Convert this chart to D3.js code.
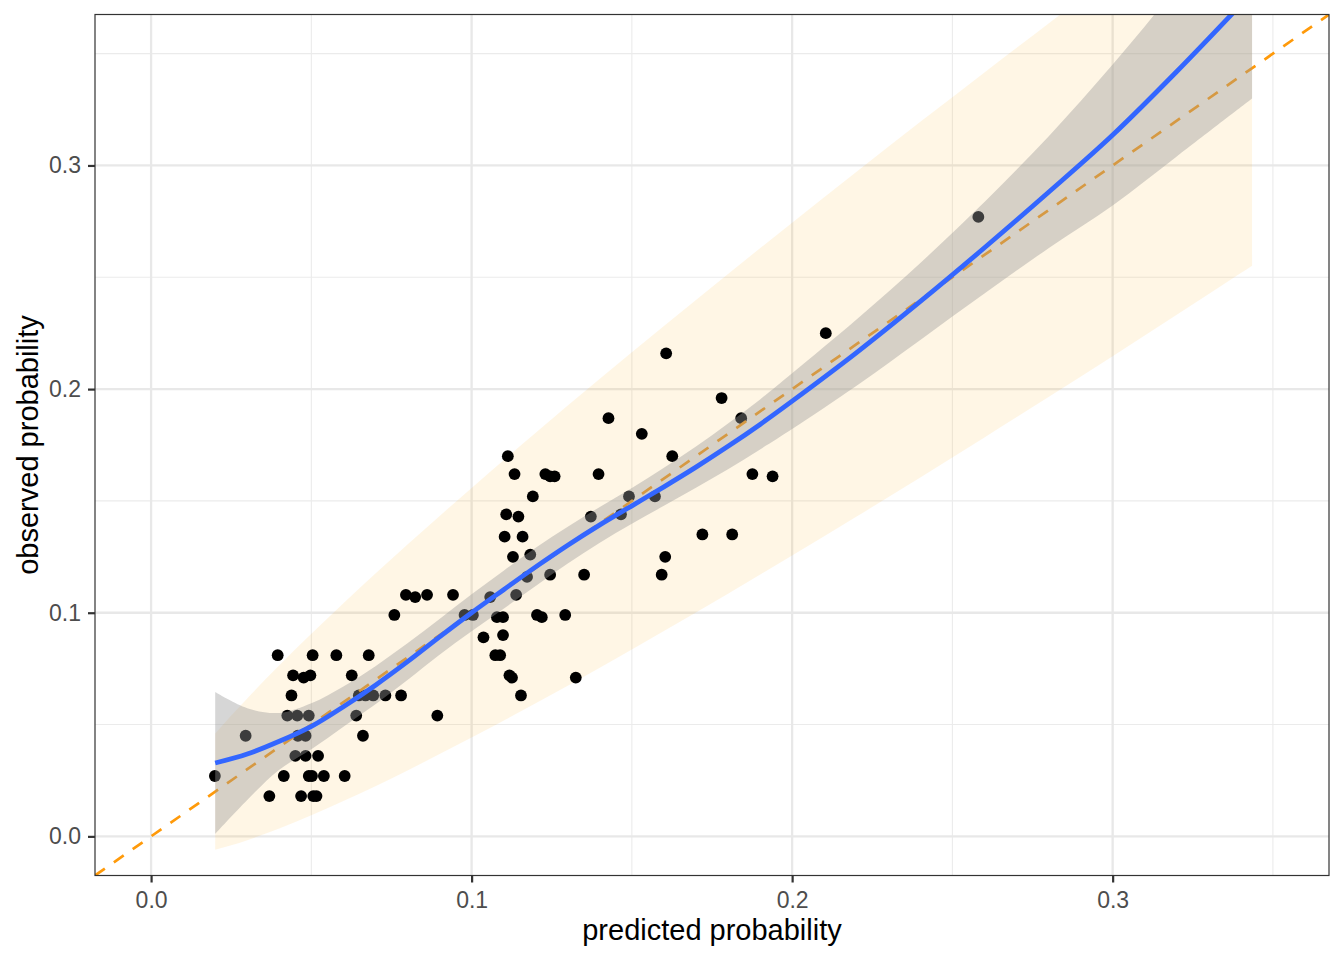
<!DOCTYPE html>
<html>
<head>
<meta charset="utf-8">
<script src="https://cdn.jsdelivr.net/npm/d3@7"></script>
<style>
  html, body { margin: 0; padding: 0; background: #fff; }
  svg { display: block; font-family: "Liberation Sans", Arial, Helvetica, sans-serif; }
</style>
</head>
<body>
<svg id="chart" width="1344" height="960"></svg>
<script>
// observed vs predicted points
const predicted = [
  0.0395, 0.0504, 0.0578, 0.0679, 0.0443, 0.0476, 0.0497, 0.0626, 0.0438, 0.0648,
  0.0669, 0.0693, 0.0731, 0.0780, 0.0425, 0.0456, 0.0492, 0.0640, 0.0893, 0.0295,
  0.0458, 0.0482, 0.0661, 0.0450, 0.0482, 0.0521, 0.0199, 0.0414, 0.0492, 0.0502,
  0.0539, 0.0604, 0.0369, 0.0468, 0.0506, 0.0516, 0.0759, 0.0795, 0.0824, 0.0861,
  0.0942, 0.0978, 0.1004, 0.1058, 0.1037, 0.1074, 0.1089, 0.1079, 0.1098, 0.1098,
  0.1118, 0.1126, 0.1154, 0.1113, 0.1134, 0.1108, 0.1103, 0.1146, 0.1159, 0.1129,
  0.1183, 0.1173, 0.1139, 0.1191, 0.1230, 0.1245, 0.1259, 0.1245, 0.1204, 0.1219,
  0.1292, 0.1351, 0.1325, 0.1396, 0.1372, 0.1427, 0.1531, 0.1607, 0.1780, 0.1841,
  0.1626, 0.1876, 0.1939, 0.1491, 0.1466, 0.1572, 0.1720, 0.1813, 0.1604, 0.1593,
  0.2105, 0.2581
];
const observed = [
  0.081, 0.081, 0.081, 0.081, 0.072, 0.071, 0.072, 0.072, 0.063, 0.063,
  0.063, 0.063, 0.063, 0.063, 0.054, 0.054, 0.054, 0.054, 0.054, 0.045,
  0.045, 0.045, 0.045, 0.036, 0.036, 0.036, 0.027, 0.027, 0.027, 0.027,
  0.027, 0.027, 0.018, 0.018, 0.018, 0.018, 0.099, 0.108, 0.107, 0.108,
  0.108, 0.099, 0.099, 0.107, 0.089, 0.081, 0.081, 0.098, 0.098, 0.090,
  0.072, 0.071, 0.063, 0.170, 0.162, 0.144, 0.134, 0.143, 0.134, 0.125,
  0.126, 0.116, 0.108, 0.152, 0.162, 0.161, 0.161, 0.117, 0.099, 0.098,
  0.099, 0.117, 0.071, 0.162, 0.143, 0.187, 0.180, 0.216, 0.196, 0.187,
  0.170, 0.162, 0.161, 0.152, 0.144, 0.152, 0.135, 0.135, 0.125, 0.117,
  0.225, 0.277
];

// smoother (blue line) and its confidence band
const smoothX = [0.02, 0.03, 0.04, 0.05, 0.06, 0.07, 0.08, 0.09, 0.10, 0.11, 0.12, 0.13, 0.14,
                 0.15, 0.16, 0.17, 0.18, 0.19, 0.20, 0.22, 0.24, 0.26, 0.28, 0.30, 0.32, 0.3435];
const smoothFit = [0.0328, 0.0368, 0.0425, 0.0492, 0.0580, 0.0676, 0.0781, 0.0892, 0.1000, 0.1103,
                   0.1205, 0.1302, 0.1393, 0.1478, 0.1563, 0.1651, 0.1744, 0.1842, 0.1946, 0.2162,
                   0.2392, 0.2632, 0.2880, 0.3136, 0.3420, 0.3772];
const smoothLo = [0.0011, 0.0163, 0.0298, 0.0389, 0.0490, 0.0591, 0.0699, 0.0812, 0.0917, 0.1018,
                  0.1120, 0.1220, 0.1313, 0.1398, 0.1478, 0.1559, 0.1642, 0.1730, 0.1821, 0.2014,
                  0.2220, 0.2427, 0.2630, 0.2821, 0.3040, 0.3299];
const smoothHi = [0.0645, 0.0573, 0.0552, 0.0595, 0.0670, 0.0761, 0.0863, 0.0972, 0.1083, 0.1188,
                  0.1290, 0.1384, 0.1473, 0.1558, 0.1648, 0.1743, 0.1846, 0.1954, 0.2071, 0.2310,
                  0.2564, 0.2837, 0.3130, 0.3451, 0.3800, 0.4245];

// wide orange band around the diagonal
const bandX = [0.02, 0.025, 0.03, 0.04, 0.06, 0.08, 0.10, 0.12, 0.14, 0.16, 0.18, 0.20,
               0.22, 0.24, 0.26, 0.28, 0.30, 0.32, 0.34, 0.3435];
const bandLo = [-0.0060, -0.0040, -0.0017, 0.0035, 0.0158, 0.0295, 0.0442, 0.0595, 0.0754, 0.0918,
                0.1085, 0.1256, 0.1429, 0.1605, 0.1784, 0.1965, 0.2147, 0.2332, 0.2519, 0.2552];
const bandHi = [0.0460, 0.0540, 0.0617, 0.0765, 0.1042, 0.1305, 0.1558, 0.1805, 0.2046, 0.2282,
                0.2515, 0.2744, 0.2971, 0.3195, 0.3416, 0.3635, 0.3853, 0.4068, 0.4281, 0.4319];

const majorTicks = [0, 0.1, 0.2, 0.3];
const minorTicks = [0.05, 0.15, 0.25, 0.35];
const limits = [-0.0175, 0.3675];

const panel = { left: 95, right: 1329, top: 14.5, bottom: 875.5 };
const svg = d3.select("#chart");

const x = d3.scaleLinear().domain(limits).range([panel.left, panel.right]);
const y = d3.scaleLinear().domain(limits).range([panel.bottom, panel.top]);

svg.append("defs").append("clipPath").attr("id", "panel-clip")
    .append("rect")
    .attr("x", panel.left).attr("y", panel.top)
    .attr("width", panel.right - panel.left).attr("height", panel.bottom - panel.top);

// grid
const grid = svg.append("g").attr("class", "grid");
minorTicks.forEach(t => {
    grid.append("line").attr("x1", x(t)).attr("x2", x(t)).attr("y1", panel.top).attr("y2", panel.bottom)
        .attr("stroke", "#ebebeb").attr("stroke-width", 1.1);
    grid.append("line").attr("y1", y(t)).attr("y2", y(t)).attr("x1", panel.left).attr("x2", panel.right)
        .attr("stroke", "#ebebeb").attr("stroke-width", 1.1);
});
majorTicks.forEach(t => {
    grid.append("line").attr("x1", x(t)).attr("x2", x(t)).attr("y1", panel.top).attr("y2", panel.bottom)
        .attr("stroke", "#e8e8e8").attr("stroke-width", 2.3);
    grid.append("line").attr("y1", y(t)).attr("y2", y(t)).attr("x1", panel.left).attr("x2", panel.right)
        .attr("stroke", "#e8e8e8").attr("stroke-width", 2.3);
});

const plot = svg.append("g").attr("clip-path", "url(#panel-clip)");

// orange band first, then points, the grey band sits over the points
const bandArea = d3.area()
    .x(i => x(bandX[i])).y0(i => y(bandLo[i])).y1(i => y(bandHi[i]))
    .curve(d3.curveMonotoneX);
plot.append("path")
    .attr("d", bandArea(d3.range(bandX.length)))
    .attr("fill", "#ffa500").attr("fill-opacity", 0.1);

plot.append("g").selectAll("circle")
    .data(predicted.map((p, i) => [p, observed[i]]))
    .enter().append("circle")
    .attr("cx", d => x(d[0]))
    .attr("cy", d => y(d[1]))
    .attr("r", 5.9)
    .attr("fill", "#000");

// diagonal reference
plot.append("line")
    .attr("x1", x(limits[0])).attr("y1", y(limits[0]))
    .attr("x2", x(limits[1])).attr("y2", y(limits[1]))
    .attr("stroke", "#ff9a0a").attr("stroke-width", 2.7)
    .attr("stroke-dasharray", "12,11");

const smoothArea = d3.area()
    .x(i => x(smoothX[i])).y0(i => y(smoothLo[i])).y1(i => y(smoothHi[i]))
    .curve(d3.curveCatmullRom.alpha(0.5));
plot.append("path")
    .attr("d", smoothArea(d3.range(smoothX.length)))
    .attr("fill", "#999999").attr("fill-opacity", 0.4);

const smoothLine = d3.line()
    .x(i => x(smoothX[i])).y(i => y(smoothFit[i]))
    .curve(d3.curveCatmullRom.alpha(0.5));
plot.append("path")
    .attr("d", smoothLine(d3.range(smoothX.length)))
    .attr("fill", "none").attr("stroke", "#3366ff").attr("stroke-width", 4.8);

// panel border
svg.append("rect")
    .attr("x", panel.left).attr("y", panel.top)
    .attr("width", panel.right - panel.left).attr("height", panel.bottom - panel.top)
    .attr("fill", "none").attr("stroke", "#333333").attr("stroke-width", 1.2);

// axes
const fmt = d3.format(".1f");
const xAxis = svg.append("g")
    .attr("transform", `translate(0, ${panel.bottom})`)
    .call(d3.axisBottom(x).tickValues(majorTicks).tickFormat(fmt).tickSize(7).tickPadding(9));
const yAxis = svg.append("g")
    .attr("transform", `translate(${panel.left}, 0)`)
    .call(d3.axisLeft(y).tickValues(majorTicks).tickFormat(fmt).tickSize(7).tickPadding(7));

[xAxis, yAxis].forEach(a => {
    a.select(".domain").remove();
    a.selectAll(".tick line").attr("stroke", "#333333").attr("stroke-width", 2.2);
    a.selectAll(".tick text")
        .attr("fill", "#4d4d4d")
        .style("font-size", "23px")
        .style("font-family", "'Liberation Sans', Arial, Helvetica, sans-serif");
});

// axis titles
svg.append("text")
    .attr("x", (panel.left + panel.right) / 2)
    .attr("y", 940)
    .attr("text-anchor", "middle")
    .attr("font-size", "29px")
    .attr("fill", "#000")
    .text("predicted probability");

svg.append("text")
    .attr("transform", `translate(38, ${(panel.top + panel.bottom) / 2}) rotate(-90)`)
    .attr("text-anchor", "middle")
    .attr("font-size", "29px")
    .attr("fill", "#000")
    .text("observed probability");
</script>
</body>
</html>
